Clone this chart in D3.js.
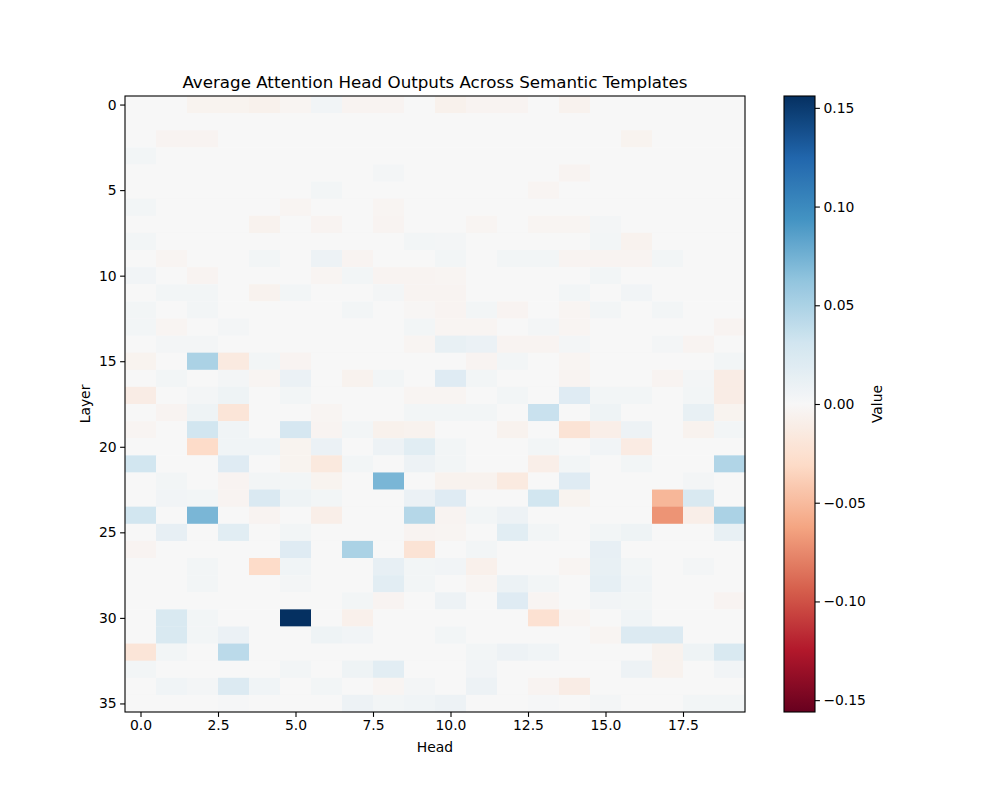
<!DOCTYPE html>
<html>
<head>
<meta charset="utf-8">
<script src="https://cdn.jsdelivr.net/npm/d3@7"></script>
<style>
  body { margin: 0; background: #fff; }
  text { font-family: "DejaVu Sans", sans-serif; fill: #000; }
</style>
</head>
<body>
<div class="chart"></div>
<script>
// chart data
var heads = d3.range(20);
var layers = d3.range(36);
var xTickValues = [0, 2.5, 5, 7.5, 10, 12.5, 15, 17.5];
var yTickValues = [0, 5, 10, 15, 20, 25, 30, 35];
var cbTickValues = [-0.15, -0.10, -0.05, 0, 0.05, 0.10, 0.15];

// values[layer][head]
var values = [
  [0, 0, -0.005, -0.005, -0.007, -0.003, 0.005, -0.004, -0.004, 0, -0.007, -0.004, -0.004, 0, -0.006, 0, 0, 0, 0, 0],
  [0, 0, 0, 0, 0, 0, 0, 0, 0, 0, 0, 0, 0, 0, 0, 0, 0, 0, 0, 0],
  [0, -0.004, -0.004, 0, 0, 0, 0, 0, 0, 0, 0, 0, 0, 0, 0, 0, -0.005, 0, 0, 0],
  [0.004, 0, 0, 0, 0, 0, 0, 0, 0, 0, 0, 0, 0, 0, 0, 0, 0, 0, 0, 0],
  [0, 0, 0, 0, 0, 0, 0, 0, 0.003, 0, 0, 0, 0, 0, -0.004, 0, 0, 0, 0, 0],
  [0, 0, 0, 0, 0, 0, 0.004, 0, 0, 0, 0, 0, 0, -0.003, 0, 0, 0, 0, 0, 0],
  [0.004, 0, 0, 0, 0, -0.003, 0, 0, -0.003, 0, 0, 0, 0, 0, 0, 0, 0, 0, 0, 0],
  [0, 0, 0, 0, -0.006, 0, -0.004, 0, -0.004, 0, 0, -0.003, 0, -0.003, -0.003, 0.003, 0, 0, 0, 0],
  [0.004, 0, 0, 0, 0, 0, 0, 0, 0, 0.004, 0.003, 0, 0, 0, 0, 0.004, -0.006, 0, 0, 0],
  [0, -0.003, 0, 0, 0.004, 0, 0.008, -0.004, 0, 0, 0.004, 0, 0.004, 0.004, -0.004, -0.004, -0.004, 0.004, 0, 0],
  [0.005, 0, -0.004, 0, 0, 0, -0.003, 0.004, -0.004, -0.004, -0.003, 0, 0, 0, 0, 0.004, 0, 0, 0, 0],
  [0, 0.004, 0.004, 0, -0.006, 0.004, 0, 0, 0.003, -0.004, -0.004, 0, 0, 0, 0.004, 0, 0.005, 0, 0, 0],
  [0.004, 0, 0.004, 0, 0, 0, 0, 0.004, 0, -0.002, -0.004, 0.004, -0.004, 0, -0.003, 0.004, 0, 0.004, 0, 0],
  [0.004, -0.003, 0, 0.003, 0, 0, 0, 0, 0, 0.004, -0.003, -0.003, 0, 0.003, -0.003, 0, 0, 0, 0, -0.004],
  [0, 0.003, 0.003, 0, 0, 0, 0, 0, 0, -0.003, 0.012, 0.01, -0.004, -0.004, 0.003, 0, 0, 0.003, -0.004, 0],
  [-0.005, 0, 0.05, -0.015, 0.004, -0.004, 0, 0, 0, 0, 0, -0.004, 0.004, 0, -0.003, 0, 0, 0, 0, 0.004],
  [0, 0.004, 0, 0.003, -0.003, 0.01, 0, -0.006, 0.004, 0, 0.02, 0.004, 0, 0, -0.004, 0, 0, -0.004, 0.003, -0.012],
  [-0.012, 0, 0.003, 0.007, 0, 0.004, 0, 0, 0, -0.003, -0.003, 0, 0.004, 0, 0.02, 0.004, 0.004, 0, 0.004, -0.012],
  [0, -0.004, 0.007, -0.02, 0, 0, -0.003, 0, 0, 0.004, 0.004, 0.004, 0, 0.035, 0, 0.007, 0, 0, 0.012, -0.005],
  [-0.003, 0, 0.03, 0.006, 0, 0.027, -0.004, 0.004, -0.007, -0.006, 0, 0, -0.006, 0, -0.022, -0.01, 0.008, 0, -0.006, 0.004],
  [0, 0, -0.03, 0.006, 0.006, -0.005, 0.01, 0, 0.008, 0.018, 0.004, 0, 0, 0.004, 0, 0.005, -0.013, 0, 0, 0],
  [0.03, 0, 0, 0.02, 0, -0.005, -0.016, 0.004, 0, 0.008, 0.004, 0, 0, -0.01, 0.004, 0, 0.004, 0, 0, 0.047],
  [0, 0.004, 0, -0.004, 0.004, 0.004, -0.005, 0, 0.072, 0, -0.006, -0.006, -0.015, 0, 0.02, 0, 0, 0, 0.003, 0],
  [0, 0.005, 0.004, -0.004, 0.024, 0.007, 0.004, 0, 0, 0.01, 0.02, 0, 0, 0.03, -0.005, 0, 0, -0.052, 0.025, 0],
  [0.03, 0, 0.072, 0, -0.004, 0, -0.01, 0, 0, 0.045, -0.004, 0.004, 0.008, 0, 0, 0, 0, -0.07, -0.01, 0.05],
  [0, 0.013, 0, 0.018, 0, 0.004, 0, 0, 0, -0.004, -0.003, 0, 0.018, 0.004, 0, 0.004, 0.007, 0, 0, 0.012],
  [-0.004, 0, 0, 0, 0, 0.02, 0, 0.05, 0, -0.022, 0, 0.004, 0, 0, 0, 0.013, 0, 0, 0, 0],
  [0, 0, 0.004, 0, -0.03, 0.006, 0, 0, 0.013, 0.004, 0.005, -0.008, 0, 0, -0.003, 0.012, 0.004, 0, 0.003, 0],
  [0, 0, 0.004, 0, 0, 0.003, 0, 0, 0.017, 0.004, 0, -0.003, 0.009, 0.004, 0, 0.014, 0.006, 0, 0, 0],
  [0, 0, 0, 0, 0, 0, 0, 0.004, -0.004, 0, 0.008, 0, 0.02, -0.003, 0, 0.005, 0.004, 0, 0, -0.004],
  [0, 0.025, 0.004, 0, 0, 0.156, 0, -0.008, 0, 0, 0, 0, 0, -0.024, -0.003, 0, 0.006, 0, 0, 0],
  [0, 0.025, 0.004, 0.01, 0, 0, 0.007, 0.005, 0, 0, 0.004, 0, 0, 0, 0, -0.003, 0.022, 0.022, 0, 0],
  [-0.02, 0.004, 0, 0.042, 0, 0, 0, 0, 0, 0, 0, 0.004, 0.008, 0.006, 0, 0, 0, -0.006, 0.007, 0.025],
  [0.004, 0, 0, 0, 0, 0.004, 0, 0.007, 0.017, 0, 0, 0.005, 0, 0, 0, 0, 0.008, -0.006, 0, 0.005],
  [0, 0.006, 0.003, 0.022, 0.006, 0, 0.004, 0, -0.003, 0.003, 0, 0.008, 0, -0.004, -0.012, 0, 0, 0, 0, 0],
  [0, 0, 0, 0.002, 0, 0, 0, 0.008, 0.004, 0.006, 0.008, 0, 0, 0.002, 0, 0.003, 0, 0, 0.004, 0.004]
];

// RdBu colour stops (brewer, red -> blue)
var rdbuColors = ["#67001f", "#b2182b", "#d6604d", "#f4a582", "#fddbc7", "#f7f7f7",
                  "#d1e5f0", "#92c5de", "#4393c3", "#2166ac", "#053061"];

var svgWidth = 1000;
var svgHeight = 800;
var plot = { left: 125, right: 745, top: 96, bottom: 712 };
var cbar = { left: 784, right: 815 };

var svg = d3.select(".chart")
  .append("svg")
  .attr("width", svgWidth)
  .attr("height", svgHeight);

// flatten matrix into cells
var cells = [];
layers.forEach(function(l) {
  heads.forEach(function(h) {
    cells.push({ layer: l, head: h, value: values[l][h] });
  });
});

var vmax = d3.max(cells, d => Math.abs(d.value));

var xScale = d3.scaleLinear()
  .domain([-0.5, heads.length - 0.5])
  .range([plot.left, plot.right]);

var yScale = d3.scaleLinear()
  .domain([-0.5, layers.length - 0.5])
  .range([plot.top, plot.bottom]);

// piecewise linear colormap like matplotlib's
var cmap = d3.scaleLinear()
  .domain(d3.range(rdbuColors.length).map(i => i / (rdbuColors.length - 1)))
  .range(rdbuColors)
  .interpolate(d3.interpolateRgb)
  .clamp(true);

var norm = d3.scaleLinear().domain([-vmax, vmax]).range([0, 1]).clamp(true);
var color = v => cmap(norm(v));

// heatmap cells
svg.append("g")
  .selectAll("rect")
  .data(cells)
  .enter()
  .append("rect")
  .attr("x", d => xScale(d.head - 0.5))
  .attr("y", d => yScale(d.layer - 0.5))
  .attr("width", d => xScale(d.head + 0.5) - xScale(d.head - 0.5) + 0.3)
  .attr("height", d => yScale(d.layer + 0.5) - yScale(d.layer - 0.5) + 0.3)
  .attr("fill", d => color(d.value));

// axes
var bottomAxis = d3.axisBottom(xScale)
  .tickValues(xTickValues)
  .tickFormat(d3.format(".1f"))
  .tickSizeOuter(0)
  .tickSize(4.9)
  .tickPadding(3.5);

var leftAxis = d3.axisLeft(yScale)
  .tickValues(yTickValues)
  .tickFormat(d3.format("d"))
  .tickSizeOuter(0)
  .tickSize(4.9)
  .tickPadding(3.5);

var xg = svg.append("g")
  .attr("transform", `translate(0, ${plot.bottom})`)
  .call(bottomAxis);

var yg = svg.append("g")
  .attr("transform", `translate(${plot.left}, 0)`)
  .call(leftAxis);

[xg, yg].forEach(function(g) {
  g.select(".domain").remove();
  g.selectAll("line").attr("stroke", "#000").attr("stroke-width", 1.1);
  g.selectAll("text")
    .style("font-family", "DejaVu Sans, sans-serif")
    .style("font-size", "13.9px")
    .attr("fill", "#000");
});

// frame
svg.append("rect")
  .attr("x", plot.left)
  .attr("y", plot.top)
  .attr("width", plot.right - plot.left)
  .attr("height", plot.bottom - plot.top)
  .attr("fill", "none")
  .attr("stroke", "#000")
  .attr("stroke-width", 1.1);

// title and labels
svg.append("text")
  .attr("x", (plot.left + plot.right) / 2)
  .attr("y", 88)
  .attr("text-anchor", "middle")
  .style("font-size", "16.7px")
  .text("Average Attention Head Outputs Across Semantic Templates");

svg.append("text")
  .attr("x", (plot.left + plot.right) / 2)
  .attr("y", 752)
  .attr("text-anchor", "middle")
  .style("font-size", "13.9px")
  .text("Head");

svg.append("text")
  .attr("transform", `translate(90, ${(plot.top + plot.bottom) / 2}) rotate(-90)`)
  .attr("text-anchor", "middle")
  .style("font-size", "13.9px")
  .text("Layer");

// colorbar
var cbScale = d3.scaleLinear()
  .domain([-vmax, vmax])
  .range([plot.bottom, plot.top]);

var defs = svg.append("defs");
var grad = defs.append("linearGradient")
  .attr("id", "cbgrad")
  .attr("x1", "0").attr("y1", "1")
  .attr("x2", "0").attr("y2", "0");

grad.selectAll("stop")
  .data(d3.range(0, 1.0001, 0.02))
  .enter()
  .append("stop")
  .attr("offset", d => d)
  .attr("stop-color", d => cmap(d));

svg.append("rect")
  .attr("x", cbar.left)
  .attr("y", plot.top)
  .attr("width", cbar.right - cbar.left)
  .attr("height", plot.bottom - plot.top)
  .attr("fill", "url(#cbgrad)")
  .attr("stroke", "#000")
  .attr("stroke-width", 1.1);

var cbAxis = d3.axisRight(cbScale)
  .tickValues(cbTickValues)
  .tickFormat(d3.format(".2f"))
  .tickSizeOuter(0)
  .tickSize(4.9)
  .tickPadding(3.5);

var cg = svg.append("g")
  .attr("transform", `translate(${cbar.right}, 0)`)
  .call(cbAxis);

cg.select(".domain").remove();
cg.selectAll("line").attr("stroke", "#000").attr("stroke-width", 1.1);
cg.selectAll("text")
  .style("font-family", "DejaVu Sans, sans-serif")
  .style("font-size", "13.9px")
  .attr("fill", "#000");

svg.append("text")
  .attr("transform", `translate(882, ${(plot.top + plot.bottom) / 2}) rotate(-90)`)
  .attr("text-anchor", "middle")
  .style("font-size", "13.9px")
  .text("Value");
</script>
</body>
</html>
